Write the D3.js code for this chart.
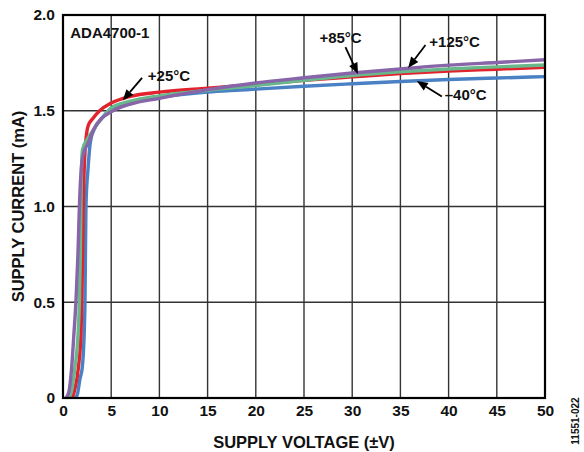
<!DOCTYPE html>
<html>
<head>
<meta charset="utf-8">
<script src="https://cdn.jsdelivr.net/npm/d3@7"></script>
<style>
  html, body { margin: 0; padding: 0; background: #fff; }
  svg { display: block; }
  text { font-family: "Liberation Sans", Arial, sans-serif; font-weight: bold; fill: #111; }
</style>
</head>
<body>
<svg id="chart" width="584" height="452"></svg>
<script>
// Supply current vs. supply voltage at four temperatures (V in ±V, I in mA)
const xTicks = [0, 5, 10, 15, 20, 25, 30, 35, 40, 45, 50];
const yTicks = [0, 0.5, 1.0, 1.5, 2.0];
const yTickLabels = ["0", "0.5", "1.0", "1.5", "2.0"];

const seriesNames = ["–40°C", "+25°C", "+85°C", "+125°C"];
const seriesColors = ["#4a80c4", "#e2222d", "#68b88c", "#8864a8"];

const tempMinus40 = [
  [1.3, 0], [1.5, 0.02], [1.76, 0.1], [2.0, 0.16], [2.2, 0.34], [2.28, 0.5],
  [2.38, 1.0], [2.6, 1.2], [2.85, 1.34], [3.3, 1.41], [4, 1.46], [5, 1.51],
  [7, 1.545], [10, 1.57], [15, 1.597], [18.4, 1.608], [20, 1.613], [25, 1.628],
  [30, 1.641], [35, 1.653], [40, 1.663], [45, 1.671], [50, 1.678]
];
const temp25 = [
  [0.9, 0], [1.1, 0.02], [1.24, 0.05], [1.6, 0.16], [1.87, 0.34], [1.94, 0.5],
  [2.05, 0.8], [2.1, 1.0], [2.3, 1.3], [2.6, 1.42], [3.1, 1.46], [3.8, 1.5],
  [5, 1.54], [7, 1.575], [10, 1.597], [15, 1.618], [20, 1.637], [25, 1.659],
  [30, 1.677], [35, 1.694], [40, 1.707], [45, 1.717], [50, 1.727]
];
const temp85 = [
  [0.6, 0], [0.9, 0.04], [1.24, 0.16], [1.57, 0.34], [1.7, 0.5], [1.8, 0.75],
  [1.86, 1.0], [1.95, 1.25], [2.04, 1.3], [2.5, 1.35], [3.0, 1.39], [4.2, 1.47],
  [5, 1.515], [7, 1.55], [10, 1.578], [15, 1.607], [20, 1.631], [25, 1.659],
  [30, 1.684], [35, 1.703], [40, 1.718], [45, 1.729], [50, 1.739]
];
const temp125 = [
  [0.3, 0], [0.6, 0.03], [0.9, 0.16], [1.14, 0.34], [1.35, 0.51], [1.55, 0.75],
  [1.7, 1.0], [1.9, 1.2], [2.1, 1.27], [2.6, 1.33], [3.15, 1.4], [4, 1.46],
  [5, 1.495], [7, 1.535], [10, 1.565], [15, 1.61], [20, 1.645], [25, 1.672],
  [30, 1.697], [35, 1.718], [40, 1.738], [45, 1.752], [50, 1.766]
];
const seriesData = [tempMinus40, temp25, temp85, temp125];

// Callouts: label anchor, arrow tail and arrow tip in data units
const callouts = [
  { text: "+25°C",  label: [8.8, 1.653],  tail: [8.2, 1.672],  tip: [6.2, 1.553] },
  { text: "+85°C",  label: [26.6, 1.855], tail: [29.3, 1.832], tip: [30.6, 1.692] },
  { text: "+125°C", label: [38.0, 1.833], tail: [37.6, 1.843], tip: [35.8, 1.723] },
  { text: "–40°C",  label: [39.6, 1.557], tail: [39.3, 1.574], tip: [36.7, 1.656] }
];

const W = 584, H = 452;
const margin = { left: 63, right: 39, top: 15, bottom: 54 };
const pw = W - margin.left - margin.right;
const ph = H - margin.top - margin.bottom;

const svg = d3.select("#chart");
const g = svg.append("g").attr("transform", `translate(${margin.left},${margin.top})`);

const x = d3.scaleLinear().domain([0, 50]).range([0, pw]);
const y = d3.scaleLinear().domain([0, 2]).range([ph, 0]);

// grid
g.append("g").selectAll("line").data(xTicks.slice(1, -1)).join("line")
  .attr("x1", d => x(d)).attr("x2", d => x(d)).attr("y1", 0).attr("y2", ph)
  .attr("stroke", "#333").attr("stroke-width", 1.4);
g.append("g").selectAll("line").data(yTicks.slice(1, -1)).join("line")
  .attr("y1", d => y(d)).attr("y2", d => y(d)).attr("x1", 0).attr("x2", pw)
  .attr("stroke", "#333").attr("stroke-width", 1.4);

// axes tick labels
const xAxis = d3.axisBottom(x).tickValues(xTicks).tickSize(0).tickPadding(7).tickFormat(d3.format("d"));
const gx = g.append("g").attr("transform", `translate(0,${ph})`).call(xAxis);
gx.select(".domain").remove();
gx.selectAll("text").attr("font-size", 15.5).attr("font-family", "Liberation Sans, Arial, sans-serif")
  .attr("font-weight", "bold").attr("fill", "#111");

const yAxis = d3.axisLeft(y).tickValues(yTicks).tickSize(0).tickPadding(8)
  .tickFormat((d, i) => yTickLabels[i]);
const gy = g.append("g").call(yAxis);
gy.select(".domain").remove();
gy.selectAll("text").attr("font-size", 15.5).attr("font-family", "Liberation Sans, Arial, sans-serif")
  .attr("font-weight", "bold").attr("fill", "#111");

// curves
const line = d3.line().x(d => x(d[0])).y(d => y(d[1])).curve(d3.curveMonotoneX);
svg.append("clipPath").attr("id", "plotclip").append("rect")
  .attr("x", 0).attr("y", 0).attr("width", pw).attr("height", ph);
g.append("g").attr("clip-path", "url(#plotclip)")
  .selectAll("path").data(seriesData).join("path")
  .attr("d", line)
  .attr("fill", "none")
  .attr("stroke", (d, i) => seriesColors[i])
  .attr("stroke-width", 3.4)
  .attr("stroke-linejoin", "round")
  .attr("stroke-linecap", "round");

// frame
g.append("rect").attr("x", 0).attr("y", 0).attr("width", pw).attr("height", ph)
  .attr("fill", "none").attr("stroke", "#000").attr("stroke-width", 2.2);

// part number
g.append("text").attr("x", x(0.75)).attr("y", y(1.88)).attr("font-size", 15).text("ADA4700-1");

// callout arrows
const headLen = 11, headW = 4.5;
callouts.forEach(c => {
  const x0 = x(c.tail[0]), y0 = y(c.tail[1]);
  const x1 = x(c.tip[0]), y1 = y(c.tip[1]);
  const a = Math.atan2(y1 - y0, x1 - x0);
  const bx = x1 - headLen * Math.cos(a), by = y1 - headLen * Math.sin(a);
  g.append("line").attr("x1", x0).attr("y1", y0).attr("x2", bx).attr("y2", by)
    .attr("stroke", "#000").attr("stroke-width", 1.8);
  const px = -Math.sin(a) * headW, py = Math.cos(a) * headW;
  g.append("path")
    .attr("d", `M${x1},${y1}L${bx + px},${by + py}L${bx - px},${by - py}Z`)
    .attr("fill", "#000");
  g.append("text").attr("x", x(c.label[0])).attr("y", y(c.label[1]))
    .attr("font-size", 15).text(c.text);
});

// axis titles
svg.append("text")
  .attr("x", margin.left + pw / 2).attr("y", 448)
  .attr("text-anchor", "middle").attr("font-size", 16.5)
  .text("SUPPLY VOLTAGE (±V)");
svg.append("text")
  .attr("transform", `translate(24,${margin.top + ph / 2}) rotate(-90)`)
  .attr("text-anchor", "middle").attr("font-size", 16.5)
  .text("SUPPLY CURRENT (mA)");

// figure code
svg.append("text")
  .attr("transform", "translate(579,421) rotate(-90)")
  .attr("text-anchor", "middle").attr("font-size", 10)
  .attr("font-weight", "normal").attr("fill", "#222")
  .text("11551-022");
</script>
</body>
</html>
